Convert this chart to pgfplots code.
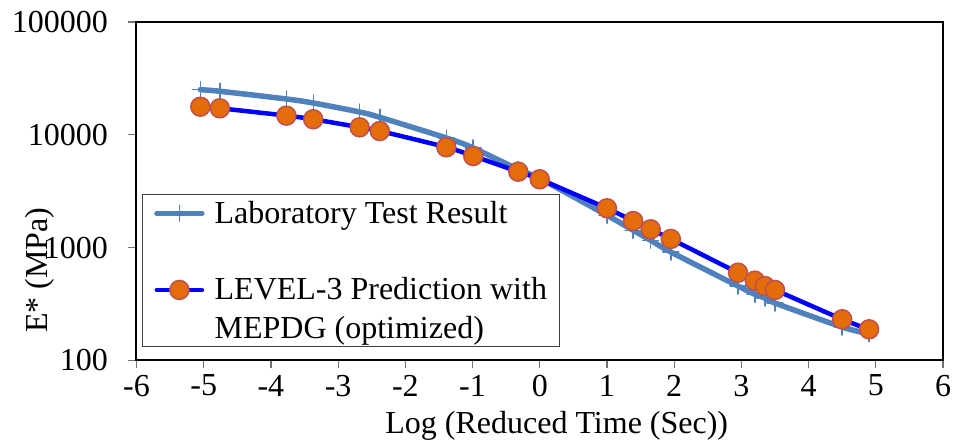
\documentclass[border=0pt]{standalone}
\usepackage{pgfplots}
\pgfplotsset{compat=1.18}
\usepackage{fontspec}
\setmainfont{Liberation Serif}

\definecolor{labblue}{HTML}{4F81BD}
\definecolor{predorange}{HTML}{E46C0A}
\definecolor{prededge}{HTML}{C0504D}

% legend text with a fixed height and no depth, so the rows sit where they should
\newcommand\legtext[2]{\rule{0pt}{#1}\smash{#2}}

\begin{document}
\begin{tikzpicture}[font=\fontsize{32bp}{37bp}\selectfont]
\useasboundingbox (-136.5bp,-84.5bp) rectangle (819.5bp,360.5bp);
\begin{axis}[
  at={(0,0)}, anchor=south west,
  scale only axis,
  width=806.5bp, height=338.5bp,
  xmin=-6, xmax=6,
  ymode=log, ymin=100, ymax=100000,
  xtick={-6,...,6},
  ytick={100,1000,10000,100000},
  yticklabels={100,1000,10000,100000},
  yminorticks=false,
  tick pos=left,
  tick align=outside,
  major tick length=8bp,
  every tick/.style={black!55, line width=1.2bp},
  axis line style={black, line width=2bp},
  /pgf/number format/assume math mode=true,
  yticklabel style={xshift=-17bp},
  xticklabel style={yshift=-3bp},
  xlabel={Log (Reduced Time (Sec))},
  xlabel style={at={(axis description cs:0.5,0)}, anchor=base, yshift=-73.5bp, xshift=17bp},
  ylabel={E* (MPa)},
  ylabel style={at={(axis description cs:-0.1197,0.267)}, anchor=center, rotate=0},
  legend style={at={(0.0064,0.492)}, anchor=north west,
    draw=black!75, line width=1bp, fill=white,
    inner xsep=12bp, inner ysep=7bp,
    row sep=0bp, column sep=10bp,
    nodes={inner sep=0pt},
    cells={anchor=base west}},
  legend image code/.code={
    \draw[#1, mark repeat=2, mark phase=2, yshift=10bp]
      plot coordinates {(0bp,0bp) (22.5bp,0bp) (45bp,0bp)};
  },
]
% laboratory test result
\addplot[labblue, line width=5.5bp, line cap=round, smooth,
  mark=+, mark size=8bp, mark options={line width=1.5bp, solid}]
  coordinates {
  (-5.05,25120) (-4.76,24320) (-3.77,20780) (-3.37,19150)
  (-2.68,15930) (-2.38,14300) (-1.39,9380) (-0.99,7650)
  (-0.32,4930) (0.0,4100) (1.0,1936) (1.39,1426)
  (1.65,1162) (1.95,915) (2.95,457) (3.20,386)
  (3.35,358) (3.50,323) (4.50,198) (4.90,173)
  };
\addlegendentry{\legtext{22bp}{Laboratory Test Result}}
% level-3 prediction
\addplot[blue, line width=4.5bp, line cap=round, smooth,
  mark=*, mark size=9.5bp,
  mark options={fill=predorange, draw=prededge, line width=1.5bp, solid}]
  coordinates {
  (-5.05,17750) (-4.76,17190) (-3.77,14790) (-3.37,13740)
  (-2.68,11660) (-2.38,10810) (-1.39,7760) (-0.99,6490)
  (-0.32,4710) (0.0,4036) (1.0,2234) (1.39,1723)
  (1.65,1455) (1.95,1194) (2.95,600) (3.20,510)
  (3.35,457) (3.50,422) (4.50,232) (4.90,189)
  };
\addlegendentry{\legtext{75bp}{LEVEL-3 Prediction with}}
\addlegendimage{empty legend}
\addlegendentry{\legtext{37bp}{MEPDG (optimized)}}
\end{axis}
\end{tikzpicture}
\end{document}
